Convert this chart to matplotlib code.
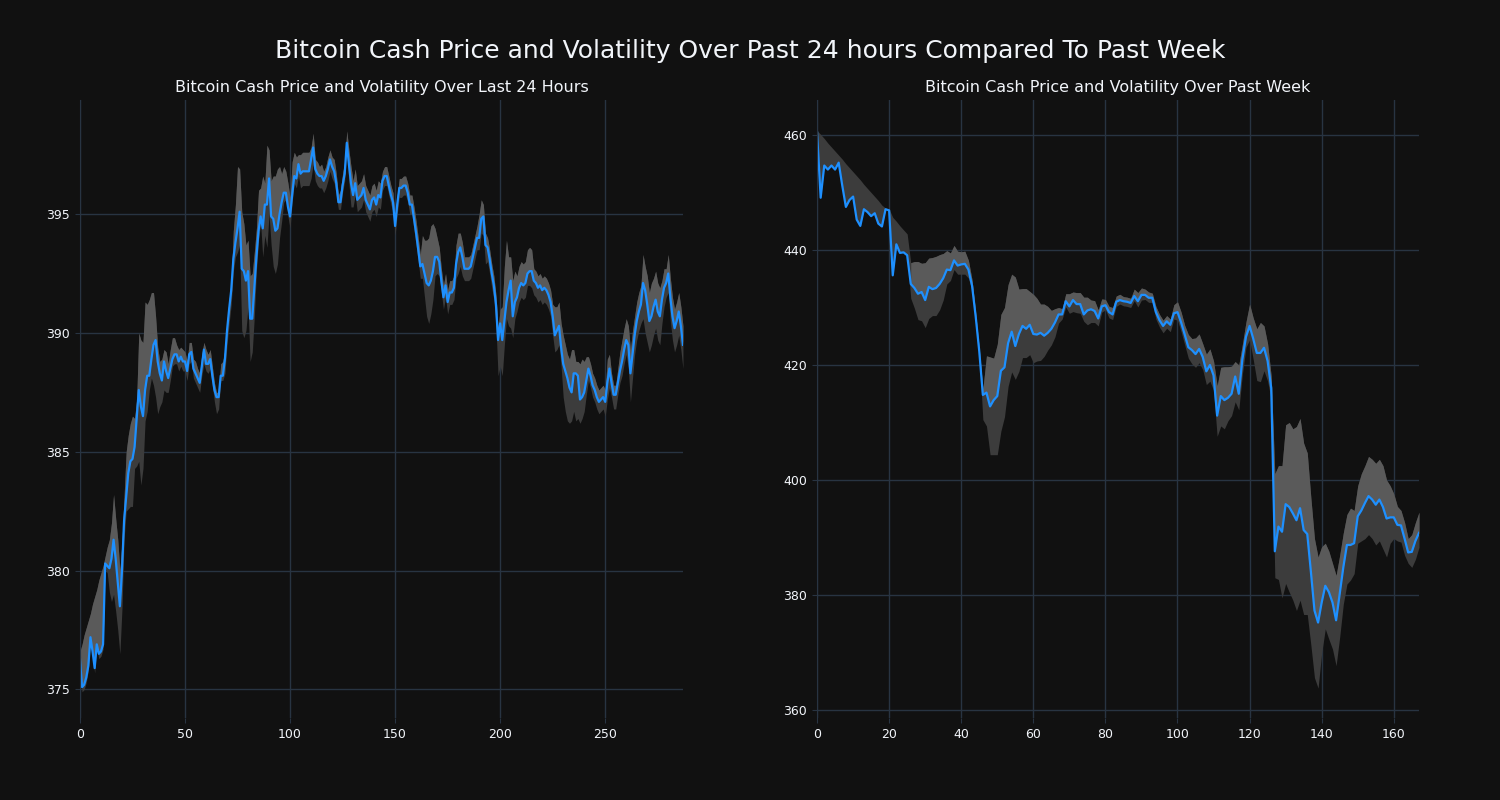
import numpy as np
import matplotlib.pyplot as plt

# last 24 hours (5 minute steps)
day_price = [
    376.3, 375.1, 375.2, 375.5, 376.0, 377.2, 376.6, 375.9, 376.9, 376.5, 376.6, 376.9,
    380.3, 380.2, 380.1, 380.5, 381.3, 380.5, 379.5, 378.5, 380.0, 382.1, 383.1, 384.1,
    384.6, 384.7, 385.2, 386.4, 387.6, 386.9, 386.5, 387.6, 388.2, 388.2, 388.9, 389.5,
    389.7, 388.8, 388.3, 388.0, 388.8, 388.4, 388.1, 388.5, 388.9, 389.1, 389.1, 388.8,
    389.0, 388.8, 388.8, 388.4, 389.1, 389.2, 388.5, 388.3, 388.1, 387.9, 388.6, 389.3,
    388.7, 388.7, 388.9, 388.2, 387.6, 387.3, 387.3, 388.2, 388.2, 388.9, 390.1, 391.0,
    391.8, 393.1, 393.8, 394.4, 395.1, 392.7, 392.6, 392.2, 392.6, 390.6, 390.6, 391.9,
    393.2, 394.3, 394.9, 394.4, 395.4, 395.4, 396.5, 394.9, 394.8, 394.3, 394.4, 395.0,
    395.5, 395.9, 395.9, 395.3, 394.9, 395.8, 396.6, 396.5, 397.1, 396.7, 396.8, 396.8,
    396.8, 396.8, 397.3, 397.8, 396.9, 396.7, 396.6, 396.6, 396.4, 396.6, 396.9, 397.3,
    397.0, 396.8, 396.3, 395.5, 395.5, 396.2, 396.7, 398.0, 397.1, 396.3, 395.8, 396.3,
    395.6, 395.7, 395.8, 396.1, 395.6, 395.4, 395.2, 395.6, 395.7, 395.4, 395.8, 395.7,
    396.4, 396.6, 396.6, 396.2, 395.8, 395.5, 394.5, 395.4, 396.1, 396.1, 396.2, 396.2,
    395.9, 395.4, 395.4, 394.8, 394.2, 393.5, 392.8, 392.9, 392.5, 392.1, 392.0, 392.2,
    392.6, 393.2, 393.2, 393.0, 392.2, 391.5, 392.0, 391.3, 391.7, 391.7, 391.9, 392.9,
    393.4, 393.6, 393.2, 392.7, 392.7, 392.7, 392.8, 393.2, 393.6, 394.0, 394.0, 394.8,
    394.9, 393.7, 393.6, 393.1, 392.5, 392.0, 391.2, 389.7, 390.4, 389.7, 390.5, 391.3,
    391.8, 392.2, 390.7, 391.3, 391.5, 391.9, 392.1, 392.0, 392.1, 392.5, 392.6, 392.6,
    392.2, 392.1, 391.9, 392.0, 391.8, 391.9, 391.8, 391.6, 391.3, 390.7, 389.9, 390.1,
    390.3, 389.4, 388.7, 388.4, 388.1, 387.7, 387.5, 388.3, 388.3, 388.2, 387.2, 387.3,
    387.5, 388.0, 388.5, 388.2, 387.8, 387.6, 387.3, 387.1, 387.2, 387.3, 387.1, 387.9,
    388.5, 387.9, 387.4, 387.4, 387.9, 388.4, 388.8, 389.3, 389.7, 389.5, 388.3, 389.1,
    389.9, 390.5, 390.9, 391.2, 392.1, 391.8, 391.2, 390.5, 390.7, 391.1, 391.4, 390.9,
    390.7, 391.4, 391.9, 392.1, 392.5, 391.5, 390.7, 390.2, 390.5, 390.9, 390.3, 389.5,
]
day_up = [
    0.3, 1.8, 2.1, 2.1, 1.9, 1.0, 2.0, 3.0, 2.3, 3.1, 3.3, 3.3,
    0.3, 0.8, 1.2, 1.5, 1.9, 1.7, 1.8, 1.5, 1.2, 1.0, 1.9, 1.6,
    1.6, 1.8, 1.2, 0.8, 2.4, 2.8, 3.1, 3.7, 3.0, 3.2, 2.8, 2.2,
    1.0, 0.6, 0.5, 0.9, 0.5, 0.8, 0.6, 0.8, 0.9, 0.7, 0.4, 0.5,
    0.4, 0.5, 0.4, 0.4, 0.5, 0.4, 0.4, 0.5, 0.4, 0.4, 0.5, 0.3,
    0.6, 0.4, 0.4, 0.4, 0.3, 0.2, 0.2, 0.5, 0.6, 0.4, 0.4, 0.4,
    0.4, 1.2, 1.6, 2.6, 1.8, 2.4, 2.0, 1.5, 1.3, 1.8, 1.9, 1.5,
    1.2, 1.7, 1.2, 2.2, 0.9, 2.5, 1.2, 1.5, 1.8, 2.3, 2.5, 2.0,
    1.2, 1.1, 0.9, 1.0, 0.8, 1.4, 1.0, 0.9, 0.4, 0.8, 0.8, 0.8,
    0.8, 0.8, 0.5, 0.6, 0.4, 0.5, 0.4, 0.5, 0.4, 0.4, 0.5, 0.4,
    0.4, 0.5, 0.4, 0.3, 0.5, 0.5, 0.5, 0.5, 0.6, 0.7, 0.6, 0.6,
    0.6, 0.6, 0.6, 0.6, 0.6, 0.6, 0.6, 0.6, 0.6, 0.6, 0.6, 0.6,
    0.4, 0.4, 0.4, 0.4, 0.4, 0.4, 0.4, 0.4, 0.4, 0.4, 0.4, 0.4,
    0.4, 0.4, 0.4, 0.5, 0.5, 0.5, 0.5, 1.2, 1.4, 1.8, 2.0, 2.3,
    2.0, 1.2, 0.8, 0.6, 0.5, 0.5, 0.5, 0.5, 0.5, 0.5, 0.5, 0.8,
    0.8, 0.6, 0.6, 0.5, 0.5, 0.5, 0.5, 0.5, 0.5, 0.5, 1.0, 0.8,
    0.5, 0.5, 0.4, 0.4, 0.4, 0.4, 0.4, 0.5, 0.6, 1.4, 2.3, 2.6,
    1.4, 1.0, 1.5, 1.3, 0.9, 0.9, 0.9, 0.9, 0.9, 1.0, 1.0, 0.9,
    0.5, 0.5, 0.5, 0.5, 0.5, 0.5, 0.5, 0.5, 0.5, 0.5, 1.2, 1.0,
    1.0, 1.0, 1.2, 1.1, 1.0, 1.2, 1.8, 1.0, 0.5, 0.6, 1.5, 1.6,
    1.3, 1.0, 0.5, 0.5, 0.5, 0.5, 0.5, 0.5, 0.5, 0.5, 0.5, 1.0,
    0.6, 0.4, 0.4, 0.4, 0.6, 0.8, 0.9, 0.9, 0.9, 0.8, 1.0, 1.0,
    0.8, 0.8, 0.8, 0.8, 1.2, 1.0, 1.2, 1.2, 1.4, 1.2, 1.2, 1.2,
    1.2, 0.8, 0.8, 0.6, 0.8, 0.8, 0.8, 0.8, 0.8, 0.8, 0.8, 0.8,
]
day_dn = [
    0.2, 0.2, 0.2, 0.2, 0.2, 0.2, 0.2, 0.2, 0.2, 0.2, 0.2, 0.2,
    0.2, 0.3, 1.0, 1.8, 2.3, 2.2, 2.0, 2.0, 1.6, 0.8, 0.6, 1.5,
    1.9, 2.0, 0.9, 2.0, 3.0, 3.3, 2.2, 1.3, 1.5, 0.6, 0.8, 1.7,
    2.4, 2.2, 1.4, 0.9, 1.2, 0.9, 0.6, 0.5, 0.3, 0.4, 0.4, 0.4,
    0.4, 0.4, 0.4, 0.4, 0.4, 0.4, 0.4, 0.4, 0.4, 0.4, 0.4, 0.6,
    0.3, 0.4, 0.4, 0.4, 0.5, 0.7, 0.5, 0.2, 0.2, 0.6, 0.6, 0.6,
    0.6, 0.5, 0.6, 1.0, 1.4, 2.6, 2.8, 2.1, 1.5, 1.8, 1.4, 1.2,
    0.6, 0.4, 0.3, 1.2, 1.3, 1.8, 1.5, 1.2, 2.0, 1.8, 1.5, 1.0,
    0.8, 0.4, 0.3, 0.4, 0.5, 0.3, 0.3, 0.4, 0.5, 0.6, 0.6, 0.6,
    0.6, 0.6, 0.8, 0.7, 0.5, 0.5, 0.5, 0.5, 0.5, 0.5, 0.5, 0.5,
    0.5, 0.5, 0.5, 0.3, 0.3, 0.3, 0.3, 0.3, 0.8, 1.0, 0.5, 0.5,
    0.5, 0.5, 0.5, 0.5, 0.5, 0.5, 0.5, 0.5, 0.5, 0.5, 0.5, 0.5,
    0.4, 0.4, 0.4, 0.4, 0.4, 0.4, 0.4, 0.4, 0.4, 0.4, 0.4, 0.4,
    0.4, 0.4, 0.4, 0.5, 0.5, 0.5, 0.5, 0.6, 1.0, 1.4, 1.6, 1.4,
    1.2, 0.8, 0.7, 0.6, 0.5, 0.5, 0.5, 0.5, 0.5, 0.5, 0.5, 0.6,
    0.9, 0.8, 0.8, 0.5, 0.5, 0.5, 0.5, 0.5, 0.5, 0.5, 0.5, 0.6,
    0.8, 0.8, 0.6, 0.6, 0.6, 0.6, 0.9, 1.5, 1.8, 1.5, 1.0, 0.7,
    1.5, 2.0, 0.9, 0.7, 0.6, 0.6, 0.6, 0.6, 0.6, 0.5, 0.6, 0.7,
    0.6, 0.6, 0.6, 0.6, 0.6, 0.6, 0.6, 0.6, 0.6, 0.8, 0.7, 0.8,
    0.8, 0.8, 1.4, 1.7, 1.8, 1.5, 1.2, 1.6, 2.0, 1.8, 1.0, 0.9,
    0.8, 0.6, 0.5, 0.5, 0.5, 0.5, 0.5, 0.5, 0.5, 0.5, 0.6, 0.7,
    0.8, 0.6, 0.6, 0.6, 0.5, 0.5, 0.6, 0.6, 0.6, 1.0, 1.2, 1.0,
    0.8, 0.8, 0.8, 0.8, 1.5, 1.8, 1.6, 1.3, 1.2, 1.2, 1.2, 1.2,
    1.2, 1.0, 0.8, 0.6, 0.8, 1.0, 1.0, 1.0, 1.0, 1.0, 1.0, 1.0,
]

# past week (hourly)
week_price = [
    460.5, 449.1, 454.7, 454.0, 454.7, 454.0, 455.2, 451.2, 447.5, 448.7, 449.3, 445.3,
    444.2, 447.1, 446.6, 445.9, 446.4, 444.6, 444.1, 447.1, 446.9, 435.6, 441.0, 439.5,
    439.6, 439.1, 434.1, 433.4, 432.4, 432.7, 431.3, 433.6, 433.2, 433.4, 434.1, 435.1,
    436.6, 436.5, 438.2, 437.3, 437.5, 437.6, 436.6, 433.8, 428.5, 422.4, 414.8, 415.2,
    412.8, 413.9, 414.6, 419.0, 419.6, 423.8, 425.8, 423.3, 425.4, 426.8, 426.3, 427.0,
    425.4, 425.3, 425.6, 425.1, 425.6, 426.3, 427.4, 428.8, 428.8, 431.1, 430.2, 431.3,
    430.6, 430.6, 428.8, 429.5, 429.7, 429.4, 428.1, 430.2, 430.4, 429.2, 428.8, 431.0,
    431.3, 431.1, 431.0, 430.8, 432.0, 431.1, 432.2, 432.2, 431.7, 431.7, 429.2, 427.8,
    426.8, 427.6, 427.0, 429.0, 429.2, 427.4, 425.3, 423.1, 422.6, 421.9, 422.8, 421.4,
    418.9, 420.0, 418.2, 411.2, 414.6, 413.9, 414.3, 415.0, 418.0, 415.0, 421.0, 424.9,
    426.8, 424.6, 422.1, 422.1, 423.0, 420.7, 416.0, 387.6, 391.9, 391.0, 395.8, 395.3,
    394.2, 393.0, 395.1, 391.3, 390.6, 384.1, 377.3, 375.2, 378.7, 381.6, 380.5, 378.7,
    375.6, 380.2, 384.8, 388.7, 388.7, 389.0, 393.7, 394.7, 396.0, 397.2, 396.6, 395.7,
    396.6, 395.3, 393.3, 393.5, 393.5, 392.2, 392.1, 389.8, 387.4, 387.5, 389.4, 390.8,
]
week_up = [
    0.3, 11.0, 4.7, 4.6, 3.2, 3.2, 1.3, 4.6, 7.5, 5.6, 4.3, 7.6,
    8.0, 4.3, 4.1, 4.1, 2.9, 4.0, 3.7, 0.2, 0.2, 10.1, 4.0, 4.7,
    3.9, 3.7, 3.7, 4.6, 5.6, 5.0, 6.5, 5.0, 5.5, 5.5, 5.1, 4.3,
    3.3, 3.0, 2.6, 2.5, 2.2, 2.2, 1.6, 1.0, 0.6, 0.5, 1.0, 6.4,
    8.6, 7.3, 9.0, 9.8, 10.4, 10.2, 10.0, 12.0, 7.8, 6.5, 7.0, 5.8,
    6.9, 6.3, 5.0, 5.5, 4.6, 3.2, 2.4, 1.2, 1.0, 1.3, 2.2, 1.4,
    2.0, 2.0, 3.0, 2.3, 1.6, 1.8, 1.5, 1.3, 1.0, 1.0, 1.2, 1.0,
    1.0, 0.8, 0.8, 0.8, 1.2, 1.5, 1.2, 1.0, 1.0, 0.8, 1.0, 1.0,
    1.0, 1.0, 1.0, 1.5, 1.8, 1.8, 1.6, 2.2, 2.0, 2.8, 2.6, 2.3,
    3.0, 2.8, 2.5, 5.2, 5.0, 5.8, 5.4, 4.8, 2.6, 5.0, 2.6, 2.6,
    3.8, 3.6, 4.2, 5.3, 3.8, 3.0, 2.0, 13.5, 10.6, 11.5, 13.8, 14.7,
    14.7, 16.3, 15.6, 15.1, 14.1, 12.8, 12.5, 11.4, 9.7, 7.4, 7.1, 6.8,
    7.8, 6.7, 6.0, 5.3, 6.4, 5.7, 5.3, 6.4, 6.5, 6.9, 7.0, 7.2,
    7.0, 7.2, 6.7, 5.5, 4.1, 3.2, 2.6, 2.8, 2.4, 3.0, 3.2, 3.6,
]
week_dn = [
    0.0, 0.0, 0.0, 0.0, 0.0, 0.0, 0.0, 0.0, 0.0, 0.0, 0.0, 0.0,
    0.0, 0.0, 0.0, 0.0, 0.0, 0.0, 0.0, 0.0, 0.0, 0.0, 0.0, 0.0,
    0.0, 0.0, 2.5, 3.5, 4.5, 5.0, 4.8, 5.5, 4.6, 4.8, 4.5, 3.8,
    2.5, 1.8, 1.6, 1.5, 1.7, 1.8, 1.5, 0.8, 0.5, 0.5, 4.3, 5.8,
    8.4, 9.5, 10.2, 10.5, 8.6, 7.5, 7.0, 5.8, 6.5, 5.5, 5.0, 5.2,
    5.0, 4.6, 4.8, 3.6, 3.0, 2.8, 2.5, 1.5, 0.8, 1.0, 1.2, 2.0,
    1.5, 1.6, 1.2, 2.5, 2.3, 2.0, 1.3, 1.0, 0.8, 1.0, 0.9, 0.8,
    0.7, 0.8, 0.8, 0.8, 0.8, 1.0, 0.9, 0.8, 0.8, 0.8, 1.2, 1.2,
    1.2, 1.2, 1.2, 1.0, 1.4, 1.6, 1.8, 1.9, 2.4, 2.3, 2.4, 2.2,
    2.3, 2.8, 2.6, 3.6, 5.2, 5.0, 4.0, 3.8, 4.4, 2.8, 2.6, 1.8,
    2.4, 3.6, 4.8, 5.0, 4.0, 3.5, 2.0, 4.6, 9.2, 11.5, 13.8, 14.8,
    15.1, 15.7, 16.0, 14.7, 14.0, 12.8, 11.7, 11.4, 8.8, 7.5, 8.2, 8.1,
    7.9, 7.5, 6.4, 6.8, 6.1, 5.3, 4.7, 5.3, 6.2, 6.7, 6.8, 7.0,
    7.2, 7.3, 6.7, 4.5, 3.7, 2.8, 2.9, 2.9, 1.9, 2.7, 3.2, 2.5,
]

bg = '#111111'
grid_c = '#283442'
text_c = '#f2f5fa'

fig = plt.figure(figsize=(15, 8), dpi=100, facecolor=bg)
ax1 = fig.add_axes([0.0533, 0.1025, 0.402, 0.7725])
ax2 = fig.add_axes([0.5447, 0.1025, 0.4013, 0.7725])


def draw(ax, price, up, dn, title):
    price = np.array(price)
    dn = np.array(dn)
    x = np.arange(len(price))
    upper = price + np.array(up)
    lower = price - dn
    ax.set_facecolor(bg)
    # whole band dark, upper half lighter where the band has both sides
    ax.fill_between(x, lower, upper, color='#3c3c3c', lw=0)
    ax.fill_between(x, price, upper, where=dn > 0, interpolate=True,
                    color='#5a5a5a', lw=0)
    ax.plot(x, price, color='#1e90ff', lw=1.6)
    ax.set_xlim(0, len(price) - 1)
    ax.grid(True, color=grid_c, lw=1)
    ax.set_axisbelow(True)
    for s in ['top', 'right', 'bottom']:
        ax.spines[s].set_visible(False)
    ax.spines['left'].set_color(grid_c)
    ax.tick_params(colors=grid_c, labelcolor=text_c, labelsize=9)
    ax.set_title(title, color=text_c, fontsize=11.5, pad=6)


draw(ax1, day_price, day_up, day_dn, 'Bitcoin Cash Price and Volatility Over Last 24 Hours')
ax1.set_ylim(373.8, 399.8)
ax1.set_xticks([0, 50, 100, 150, 200, 250])
ax1.set_yticks([375, 380, 385, 390, 395])

draw(ax2, week_price, week_up, week_dn, 'Bitcoin Cash Price and Volatility Over Past Week')
ax2.set_ylim(358.6, 466.1)
ax2.set_xticks([0, 20, 40, 60, 80, 100, 120, 140, 160])
ax2.set_yticks([360, 380, 400, 420, 440, 460])

fig.suptitle('Bitcoin Cash Price and Volatility Over Past 24 hours Compared To Past Week',
             color=text_c, fontsize=18, y=0.951)

fig.savefig('out.png', facecolor=bg)
